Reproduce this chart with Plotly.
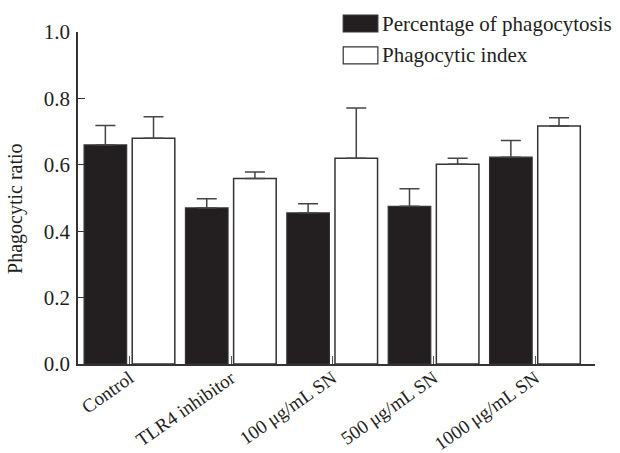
import plotly.graph_objects as go

categories = ["Control", "TLR4 inhibitor", "100 μg/mL SN", "500 μg/mL SN", "1000 μg/mL SN"]
pct_phago = [0.66, 0.47, 0.455, 0.475, 0.623]
pct_phago_err = [0.058, 0.028, 0.028, 0.053, 0.050]
phago_index = [0.68, 0.559, 0.62, 0.602, 0.717]
phago_index_err = [0.065, 0.019, 0.151, 0.018, 0.025]
y_ticks = [0.0, 0.2, 0.4, 0.6, 0.8, 1.0]
series_names = ["Percentage of phagocytosis", "Phagocytic index"]

FONT = "Liberation Serif, Times New Roman, serif"
INK = "#231f20"

fig = go.Figure()
fig.add_trace(go.Bar(
    x=categories, y=pct_phago, name=series_names[0],
    width=0.42, offset=-0.45,
    marker=dict(color=INK, line=dict(color="#333333", width=1.2)),
    error_y=dict(type="data", array=pct_phago_err, arrayminus=[0]*len(pct_phago),
                 symmetric=False, color="#444444", thickness=1.5, width=10),
    showlegend=False,
))
fig.add_trace(go.Bar(
    x=categories, y=phago_index, name=series_names[1],
    width=0.42, offset=0.025,
    marker=dict(color="white", line=dict(color="#333333", width=1.5)),
    error_y=dict(type="data", array=phago_index_err, arrayminus=[0]*len(phago_index),
                 symmetric=False, color="#444444", thickness=1.5, width=10),
    showlegend=False,
))

# manual legend (large rectangular swatches as in the reference)
legend_rows = [(1.051, 1.0, INK), (0.955, 0.904, "white")]
for (y1, y0, col), name in zip(legend_rows, series_names):
    fig.add_shape(type="rect", xref="paper", yref="paper",
                  x0=0.513, x1=0.580, y0=y0, y1=y1,
                  fillcolor=col, line=dict(color="#333333", width=1.2))
    fig.add_annotation(xref="paper", yref="paper", x=0.584, y=(y0 + y1) / 2,
                       text=name, showarrow=False, xanchor="left", yanchor="middle",
                       font=dict(family=FONT, size=21, color=INK))

# y axis title
fig.add_annotation(xref="paper", yref="paper", x=-0.12, y=0.47,
                   text="Phagocytic ratio", textangle=-90, showarrow=False,
                   xanchor="center", yanchor="middle",
                   font=dict(family=FONT, size=20, color=INK))

fig.update_layout(
    width=620, height=453,
    margin=dict(l=78, r=25, t=32, b=89),
    paper_bgcolor="white", plot_bgcolor="white",
    barmode="overlay",
    font=dict(family=FONT, color=INK),
    showlegend=False,
)
fig.update_xaxes(
    range=[-0.51, 4.59], showline=True, linecolor="#333333", linewidth=1.5,
    ticks="inside", ticklen=8, tickcolor="#555555", tickwidth=1,
    tickangle=-35, tickfont=dict(family=FONT, size=19, color=INK),
    ticklabelstandoff=-6,
    showgrid=False, zeroline=False, automargin=False,
)
fig.update_yaxes(
    range=[0, 1.0], tickvals=y_ticks, ticktext=[f"{v:.1f}" for v in y_ticks],
    showline=True, linecolor="#333333", linewidth=1.5,
    ticks="inside", ticklen=7, tickcolor="#333333", tickwidth=1.2,
    tickfont=dict(family=FONT, size=21, color=INK), ticklabelstandoff=2,
    showgrid=False, zeroline=False, automargin=False,
)

fig.write_html(
    "out.html",
    config={"displayModeBar": False},
    post_script="document.body.style.margin='0';document.body.style.overflow='hidden';",
)
